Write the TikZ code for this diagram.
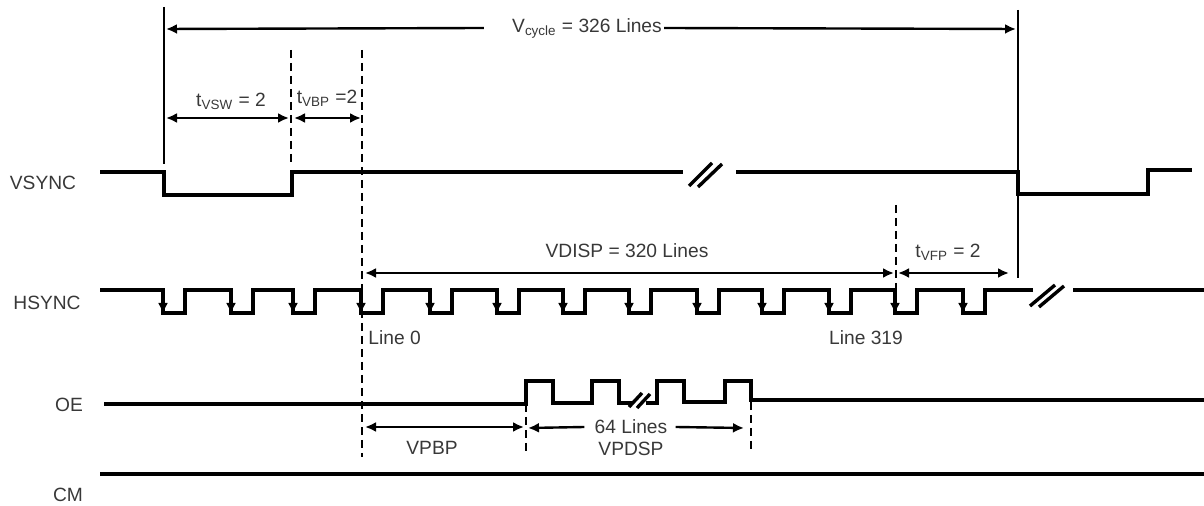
\documentclass[tikz,border=0pt]{standalone}
\usepackage{fontspec}
\setmainfont{Liberation Sans}
\setsansfont{Liberation Sans}
\usetikzlibrary{arrows.meta}
\definecolor{txtgray}{gray}{0.22}

\begin{document}
\begin{tikzpicture}[x=0.5pt,y=-0.5pt,
    >={Latex[length=5.5pt,width=5pt]},
    sig/.style={line width=1.7pt},
    dim/.style={line width=1.2pt},
    guide/.style={line width=1.1pt, dash pattern=on 4pt off 2.5pt},
    lbl/.style={text=txtgray, font=\fontsize{9.6}{11}\selectfont, inner sep=1pt}]
    \useasboundingbox (0,0) rectangle (1204,506);
    \node[lbl] (vsync) at (43,183) {VSYNC}; % signal names
    \node[lbl] (hsync) at (47,303) {HSYNC};
    \node[lbl] (oe) at (69,405) {OE};
    \node[lbl] (cm) at (68,495) {CM};
    \draw[dim] (164,7) -- (164,164); % frame start
    \draw[dim] (1018,10) -- (1018,278); % frame end
    \draw[guide] (291,50) -- (291,166); % end of vsync pulse
    \draw[guide] (362,50) -- (362,457); % line 0
    \draw[guide] (896,205) -- (896,300); % line 319
    \draw[guide] (526,404) -- (526,453); % oe start
    \draw[guide] (751,402) -- (751,452); % oe end
    \draw[sig] (100,172) -- (164,172) -- (164,195) -- (292,195) -- (292,172) -- (683,172); % vsync
    \draw[sig] (689,186) -- (712,163) (698,187) -- (722,164); % break
    \draw[sig] (736,172) -- (1018,172) -- (1018,194) -- (1148,194) -- (1148,170) -- (1192,170);
    \draw[sig] (100,290) \foreach \x in {163,231,293,361,430,497,563,629,697,762,829,895,963} { -- (\x,290) -- (\x,313) -- (\x+22,313) -- (\x+22,290) } -- (1033,290); % hsync
    \foreach \x in {163,231,293,361,430,497,563,629,697,762,829,895,963} \draw[dim,->] (\x,292) -- (\x,314);
    \draw[sig] (1030,306) -- (1055,285) (1039,307) -- (1064,286); % break
    \draw[sig] (1073,290) -- (1204,290);
    \draw[sig] (104,404) -- (526,404) -- (526,381) -- (553,381) -- (553,403) -- (592,403) -- (592,381) -- (619,381) -- (619,403) -- (633,403); % oe
    \draw[sig] (629,407) -- (642,393) (637,408) -- (650,394); % break
    \draw[sig] (646,403) -- (657,403) -- (657,381) -- (684,381) -- (684,402) -- (725,402) -- (725,381) -- (751,381) -- (751,400) -- (1204,400);
    \draw[sig] (100,474) -- (1204,474); % cm
    % dimensions
    \coordinate (cycL) at (166,29); \coordinate (cycR) at (1016,29);
    \node[lbl] (cyc) at (587,28) {V\textsubscript{cycle} = 326 Lines};
    \draw[dim,->] ([xshift=-13pt]cyc.west) -- (cycL);
    \draw[dim,->] (cyc.east) -- (cycR);
    \coordinate (vswL) at (166,118); \coordinate (vswR) at (289,118);
    \draw[dim,<->] (vswL) -- (vswR);
    \node[lbl] (tvsw) at (231,101) {t\textsubscript{VSW} = 2};
    \coordinate (vbpL) at (294,118); \coordinate (vbpR) at (361,118);
    \draw[dim,<->] (vbpL) -- (vbpR);
    \node[lbl] (tvbp) at (327,98) {t\textsubscript{VBP} =2};
    \coordinate (dispL) at (365,273); \coordinate (dispR) at (894,273);
    \draw[dim,<->] (dispL) -- (dispR);
    \node[lbl] (vdisp) at (627,251) {VDISP = 320 Lines};
    \coordinate (vfpL) at (898,273); \coordinate (vfpR) at (1009,273);
    \draw[dim,<->] (vfpL) -- (vfpR);
    \node[lbl] (tvfp) at (948,252) {t\textsubscript{VFP} = 2};
    \node[lbl, anchor=west] (line0) at (366,338) {Line 0};
    \node[lbl] (line319) at (866,338) {Line 319};
    \coordinate (pbpL) at (365,427); \coordinate (pbpR) at (524,427);
    \draw[dim,<->] (pbpL) -- (pbpR);
    \node[lbl] (vpbp) at (432,448) {VPBP};
    \coordinate (dspL) at (528,428); \coordinate (dspR) at (744,428);
    \node[lbl] (lines64) at (631,427) {64 Lines};
    \draw[dim,->] ([xshift=-4pt]lines64.west) -- (dspL);
    \draw[dim,->] ([xshift=3pt]lines64.east) -- (dspR);
    \node[lbl] (vpdsp) at (631,449) {VPDSP};
\end{tikzpicture}
\end{document}
